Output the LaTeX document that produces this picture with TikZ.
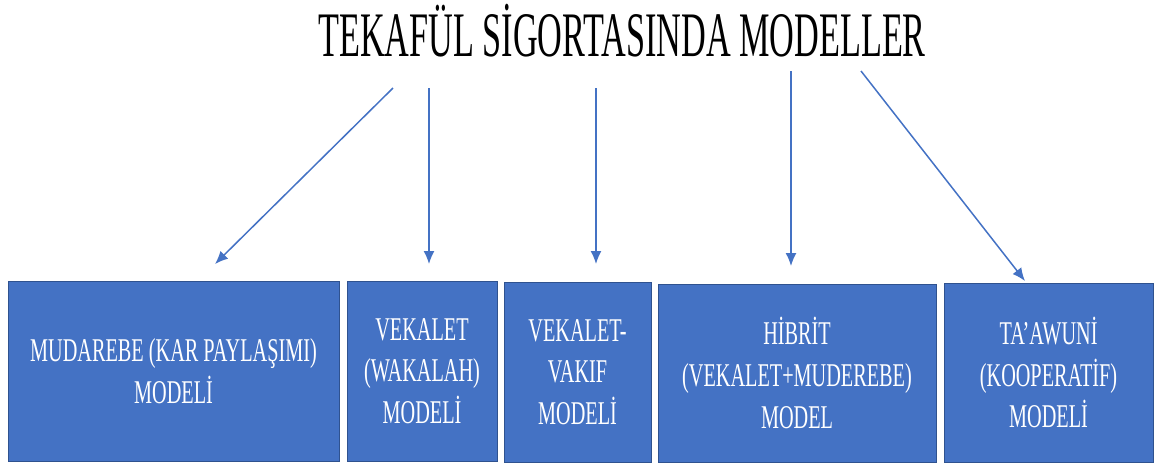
\documentclass[tikz,border=0pt]{standalone}
\usepackage{fontspec}
\usetikzlibrary{arrows.meta}
\newfontfamily\titlefont[FakeStretch=0.54]{Liberation Serif}
\newfontfamily\boxfont[FakeStretch=0.61]{Liberation Serif}
\definecolor{boxblue}{HTML}{4472C4}
\definecolor{boxedge}{HTML}{2F528F}
\definecolor{arrowblue}{HTML}{4472C4}
\tikzset{
  modelbox/.style={rectangle, fill=boxblue, draw=boxedge, line width=0.5pt,
    inner sep=0pt, align=center, text=white,
    font=\boxfont\fontsize{16.6pt}{20.8pt}\selectfont},
  conn/.style={draw=arrowblue, line width=0.75pt,
    -{Latex[length=6.5pt,width=5.5pt]}},
  titletext/.style={inner sep=0pt, anchor=base,
    font=\titlefont\fontsize{31.7pt}{38pt}\selectfont}
}
\begin{document}
\begin{tikzpicture}[x=0.5pt,y=-0.5pt]
\useasboundingbox (0,0) rectangle (1154,463);
\node[titletext] (title) at (622,56) {TEKAFÜL SİGORTASINDA MODELLER};

\node[modelbox, minimum width=165.5pt, minimum height=90pt] (m1) at (173.5,371)
  {MUDAREBE (KAR PAYLAŞIMI)\\MODELİ};
\node[modelbox, minimum width=75pt, minimum height=90pt] (m2) at (422,371)
  {VEKALET\\(WAKALAH)\\MODELİ};
\node[modelbox, minimum width=73.5pt, minimum height=90pt] (m3) at (577.5,372)
  {VEKALET-\\VAKIF\\MODELİ};
\node[modelbox, minimum width=139pt, minimum height=89pt] (m4) at (797,373)
  {HİBRİT\\(VEKALET+MUDEREBE)\\MODEL};
\node[modelbox, minimum width=104.5pt, minimum height=89.5pt] (m5) at (1048.5,372.5)
  {TA’AWUNİ\\(KOOPERATİF)\\MODELİ};

\coordinate (s1) at (393,88);  \coordinate (e1) at (215,264);
\coordinate (s2) at (429,88);  \coordinate (e2) at (429,264);
\coordinate (s3) at (596,88);  \coordinate (e3) at (596,264);
\coordinate (s4) at (791,71);  \coordinate (e4) at (791,266);
\coordinate (s5) at (861,71);  \coordinate (e5) at (1025,281);

\draw[conn] (s1) -- (e1);
\draw[conn] (s2) -- (e2);
\draw[conn] (s3) -- (e3);
\draw[conn] (s4) -- (e4);
\draw[conn] (s5) -- (e5);
\end{tikzpicture}
\end{document}
